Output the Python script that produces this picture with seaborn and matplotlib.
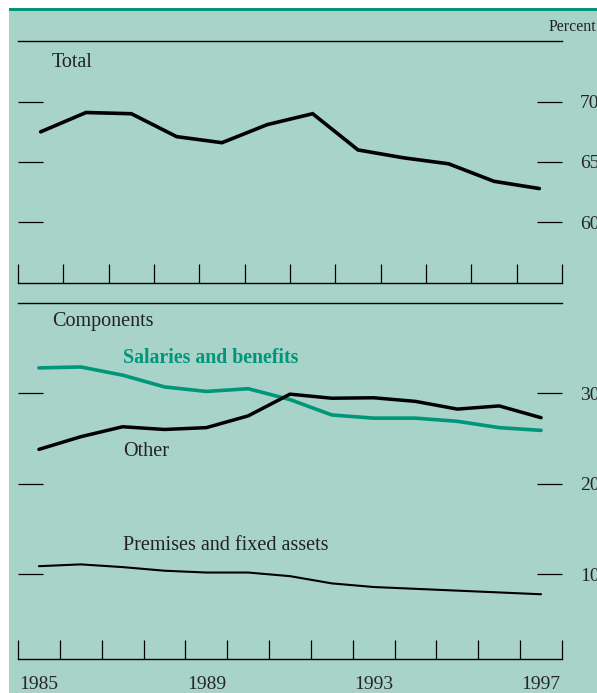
import numpy as np
import pandas as pd
import matplotlib
matplotlib.use("Agg")
import matplotlib.pyplot as plt
import seaborn as sns
from matplotlib.patches import Rectangle

# Total, 12 points drawn across the upper panel
total_years = list(range(1985, 1997))
total = [67.5, 69.1, 69.0, 67.1, 66.6, 68.1, 69.0, 66.0, 65.35, 64.85, 63.4, 62.8]

# Components, 1985-1997
years = list(range(1985, 1998))
salaries = [32.8, 32.9, 32.0, 30.7, 30.2, 30.5, 29.3, 27.6, 27.25, 27.25, 26.9, 26.2, 25.9]
other = [23.8, 25.2, 26.3, 26.0, 26.2, 27.5, 29.9, 29.45, 29.5, 29.1, 28.25, 28.6, 27.3]
premises = [10.9, 11.1, 10.8, 10.4, 10.2, 10.2, 9.8, 9.0, 8.6, 8.4, 8.2, 8.0, 7.8]

year_labels = ["1985", "1989", "1993", "1997"]

BG = "#a7d3c9"
TEAL = "#009679"

sns.set_theme(style="white")
plt.rcParams["font.family"] = ["Liberation Serif", "DejaVu Serif"]

W, H = 597, 693
fig = plt.figure(figsize=(W / 100, H / 100), dpi=100)
fig.patch.set_facecolor("white")
fig.add_artist(Rectangle((9 / W, 0), 1, 1 - 11 / H, transform=fig.transFigure,
                         facecolor=BG, edgecolor="none", zorder=0))
fig.add_artist(Rectangle((9 / W, 1 - 11 / H), 1, 2.6 / H, transform=fig.transFigure,
                         facecolor=TEAL, edgecolor="none", zorder=0))

left = 18 / W
width = (562 - 18) / W
ax1 = fig.add_axes([left, 1 - 282.7 / H, width, (282.7 - 41.3) / H])
ax2 = fig.add_axes([left, 1 - 659 / H, width, (659 - 302.7) / H])


def style_axis(ax):
    ax.set_facecolor("none")
    for s in ["left", "right"]:
        ax.spines[s].set_visible(False)
    for s in ["top", "bottom"]:
        ax.spines[s].set_color("black")
        ax.spines[s].set_linewidth(1.0)
    ax.tick_params(axis="y", which="major", left=True, right=True, direction="in",
                   length=18, width=0.9, color="black", labelleft=False,
                   labelright=True, pad=13, labelsize=14)
    ax.tick_params(axis="x", which="minor", bottom=True, top=False, direction="in",
                   length=14, width=0.9, color="black")
    ax.tick_params(axis="x", which="major", bottom=True, top=False, length=0,
                   labelsize=14, pad=12)
    ax.set_xlabel("")
    ax.set_ylabel("")


# Upper panel
df_total = pd.DataFrame({"year": total_years, "value": total})
sns.lineplot(data=df_total, x="year", y="value", ax=ax1, color="black",
             linewidth=2.6, solid_joinstyle="miter")
ax1.set_xlim(total_years[0] - 0.5, total_years[-1] + 0.5)
ax1.set_ylim(55, 75)
ax1.set_yticks([60, 65, 70])
ax1.set_xticks(total_years)
ax1.set_xticklabels([])
ax1.set_xticks(np.arange(total_years[0] - 0.5, total_years[-1] + 1), minor=True)
style_axis(ax1)
ax1.text(0.0625, 0.914, "Total", transform=ax1.transAxes, ha="left", va="center",
         fontsize=14.5, color="#222222")

# Lower panel
df_comp = pd.DataFrame({
    "year": years * 3,
    "value": salaries + other + premises,
    "series": ["Salaries and benefits"] * 13 + ["Other"] * 13 + ["Premises and fixed assets"] * 13,
})
sns.lineplot(data=df_comp, x="year", y="value", hue="series", size="series",
             palette={"Salaries and benefits": TEAL, "Other": "black",
                      "Premises and fixed assets": "black"},
             sizes={"Salaries and benefits": 2.6, "Other": 2.5,
                    "Premises and fixed assets": 1.5},
             ax=ax2, legend=False)
ax2.set_xlim(years[0] - 0.5, years[-1] + 0.5)
ax2.set_ylim(0.65, 40)
ax2.set_yticks([10, 20, 30])
ax2.set_xticks([int(y) for y in year_labels])
ax2.set_xticklabels(year_labels)
ax2.set_xticks(np.arange(years[0] - 0.5, years[-1] + 1), minor=True)
style_axis(ax2)


def lower_text(px_x, px_y, s, **kw):
    # place text by pixel position inside the lower panel
    fx = (px_x - 18) / (562 - 18)
    fy = (659 - px_y) / (659 - 302.7)
    ax2.text(fx, fy, s, transform=ax2.transAxes, ha="left", va="center", **kw)


lower_text(52, 321, "Components", fontsize=14.5, color="#222222")
lower_text(123, 357.7, "Salaries and benefits", fontsize=14.3, fontweight="bold",
           color=TEAL)
lower_text(123, 451, "Other", fontsize=14.5, color="#222222")
lower_text(123, 545, "Premises and fixed assets", fontsize=14.5, color="#222222")

fig.text(549 / W, 1 - 27 / H, "Percent", ha="left", va="center", fontsize=11.5,
         color="#222222")

fig.savefig("out.png", dpi=100)
